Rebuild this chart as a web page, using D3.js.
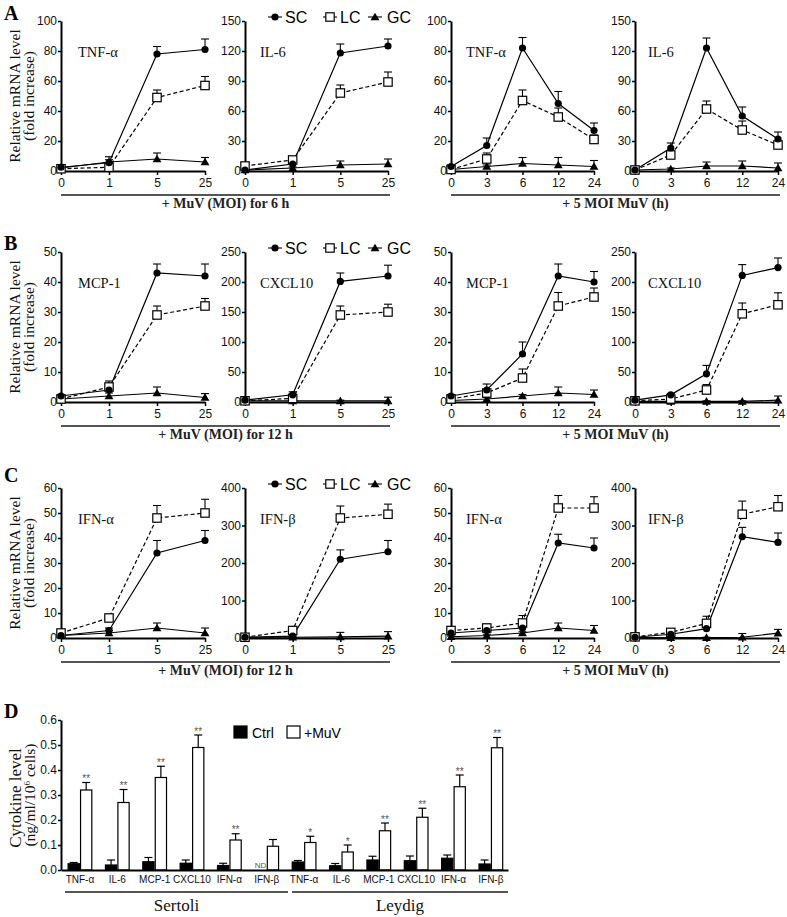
<!DOCTYPE html>
<html><head><meta charset="utf-8">
<script src="https://cdn.jsdelivr.net/npm/d3@7"></script>
<style>body{margin:0;background:#fff}</style>
</head><body>
<svg id="c" width="787" height="917" xmlns="http://www.w3.org/2000/svg"></svg>
<script>
// ---------------- DATA ----------------
const seriesNames = ["SC", "LC", "GC"];
const moiCats = ["0", "1", "5", "25"];
const timeCats = ["0", "3", "6", "12", "24"];
const panelLetters = ["A", "B", "C", "D"];
const moiTitles = ["+ MuV (MOI) for 6 h", "+ MuV (MOI) for 12 h", "+ MuV (MOI) for 12 h"];
const timeTitle = "+ 5 MOI MuV (h)";
const genesA = ["TNF-\u03b1", "IL-6"];
const genesB = ["MCP-1", "CXCL10"];
const genesC = ["IFN-\u03b1", "IFN-\u03b2"];
const yMaxA = [100, 150], yStepA = [20, 30];
const yMaxB = [50, 250], yStepB = [10, 50];
const yMaxC = [60, 400], yStepC = [10, 100];

// Panel A, TNF-a vs MOI
const A1_SC = [2.5, 5.5, 78, 81], A1_SCe = [1, 4, 5, 7];
const A1_LC = [1.5, 2.5, 49, 57], A1_LCe = [1, 2, 5, 6];
const A1_GC = [2, 6, 8, 6], A1_GCe = [1, 1.5, 4, 3];
// Panel A, IL-6 vs MOI
const A2_SC = [1, 7, 118, 125], A2_SCe = [1, 2, 9, 7];
const A2_LC = [5, 11, 78, 89], A2_LCe = [1, 2, 8, 10];
const A2_GC = [1, 3, 6, 7], A2_GCe = [1, 1, 4, 5];
// Panel A, TNF-a vs time
const A3_SC = [3, 17, 82, 45, 27], A3_SCe = [1, 5, 7, 8, 5];
const A3_LC = [1, 8, 47, 36, 21], A3_LCe = [1, 4, 7, 6, 3];
const A3_GC = [1, 3, 5, 4, 3], A3_GCe = [1, 1, 4, 5, 4];
// Panel A, IL-6 vs time
const A4_SC = [1, 23, 123, 55, 32], A4_SCe = [1, 5, 10, 9, 7];
const A4_LC = [1, 16, 62, 41, 26], A4_LCe = [1, 2, 8, 9, 3];
const A4_GC = [1, 2, 5, 5, 3], A4_GCe = [1, 1, 4, 5, 5];

// Panel B, MCP-1 vs MOI
const B1_SC = [2, 4, 43, 42], B1_SCe = [0.5, 1.5, 3, 4];
const B1_LC = [1, 5, 29, 32], B1_LCe = [0.5, 2, 3, 2.5];
const B1_GC = [1, 2, 3, 1.5], B1_GCe = [0.5, 1, 2, 1.3];
// Panel B, CXCL10 vs MOI
const B2_SC = [3, 12, 201, 210], B2_SCe = [1, 5, 14, 18];
const B2_LC = [2, 6, 145, 150], B2_LCe = [1, 3, 15, 13];
const B2_GC = [2, 2, 2, 2], B2_GCe = [1, 1, 1, 6];
// Panel B, MCP-1 vs time
const B3_SC = [2, 4, 16, 42, 40], B3_SCe = [0.5, 2, 4, 4, 3.5];
const B3_LC = [1, 3, 8, 32, 35], B3_LCe = [0.5, 1, 3, 4.5, 3];
const B3_GC = [0.5, 1, 2, 3, 2.5], B3_GCe = [0.3, 0.5, 0.5, 2, 1.5];
// Panel B, CXCL10 vs time
const B4_SC = [3, 12, 47, 211, 224], B4_SCe = [1, 2, 14, 18, 16];
const B4_LC = [2, 5, 20, 147, 162], B4_LCe = [1, 2, 9, 18, 20];
const B4_GC = [1, 1, 1, 1, 3], B4_GCe = [1, 1, 1, 1, 7];

// Panel C, IFN-a vs MOI
const C1_SC = [1, 3, 34, 39], C1_SCe = [0.5, 1, 5, 4];
const C1_LC = [2, 8, 48, 50], C1_LCe = [0.5, 1, 5, 5.5];
const C1_GC = [1, 2, 4, 2], C1_GCe = [0.5, 1, 2, 2];
// Panel C, IFN-b vs MOI
const C2_SC = [2, 5, 210, 230], C2_SCe = [1, 3, 25, 30];
const C2_LC = [2, 20, 320, 330], C2_LCe = [1, 5, 32, 27];
const C2_GC = [2, 2, 3, 5], C2_GCe = [1, 1, 12, 12];
// Panel C, IFN-a vs time
const C3_SC = [2, 3, 4, 38, 36], C3_SCe = [0.5, 1, 1, 3.5, 4];
const C3_LC = [3, 4, 6, 52, 52], C3_LCe = [0.5, 1.5, 3, 5, 4.5];
const C3_GC = [0.5, 1, 2, 4, 3], C3_GCe = [0.3, 0.5, 0.5, 2, 2];
// Panel C, IFN-b vs time
const C4_SC = [2, 10, 25, 270, 255], C4_SCe = [1, 3, 5, 25, 25];
const C4_LC = [3, 15, 39, 330, 350], C4_LCe = [1, 3, 19, 35, 30];
const C4_GC = [1, 1, 1, 2, 13], C4_GCe = [1, 1, 1, 10, 10];

// Panel D
const dCats = ["TNF-\u03b1", "IL-6", "MCP-1", "CXCL10", "IFN-\u03b1", "IFN-\u03b2"];
const dGroups = ["Sertoli", "Leydig"];
const dLegend = ["Ctrl", "+MuV"];
const dTicks = [0, 0.1, 0.2, 0.3, 0.4, 0.5, 0.6];
const sertoliCtrl = [0.025, 0.02, 0.033, 0.027, 0.018, null];
const sertoliCtrlErr = [0.005, 0.02, 0.017, 0.013, 0.009, null];
const sertoliMuV = [0.32, 0.27, 0.37, 0.49, 0.12, 0.095];
const sertoliMuVErr = [0.03, 0.052, 0.045, 0.05, 0.025, 0.027];
const leydigCtrl = [0.032, 0.017, 0.04, 0.037, 0.047, 0.024];
const leydigCtrlErr = [0.006, 0.009, 0.015, 0.019, 0.013, 0.016];
const leydigMuV = [0.11, 0.072, 0.157, 0.211, 0.333, 0.489];
const leydigMuVErr = [0.025, 0.028, 0.031, 0.036, 0.047, 0.041];
const sertoliSig = ["**", "**", "**", "**", "**", ""];
const leydigSig = ["*", "*", "**", "**", "**", "**"];

// ---------------- LAYOUT ----------------
const SERIF = "'Liberation Serif','Times New Roman',serif";
const SANS = "'Liberation Sans',Arial,sans-serif";
const svg = d3.select("#c");
svg.append("rect").attr("width", 787).attr("height", 917).attr("fill", "#fff");

const colX = [[61, 205], [245, 388], [451, 594], [635, 778]];
const geneX = [78, 260, 466, 648];
const rowY = [[171, 21], [402, 252], [638, 488]];
const letterY = [20, 250, 482];

function mk(sc, sce, lc, lce, gc, gce) {
  return { SC: sc, SCe: sce, LC: lc, LCe: lce, GC: gc, GCe: gce };
}

function drawMarker(g, s, cx, cy) {
  if (s === "SC") {
    g.append("circle").attr("cx", cx).attr("cy", cy).attr("r", 3.6).attr("fill", "#000");
  } else if (s === "LC") {
    g.append("rect").attr("x", cx - 4.2).attr("y", cy - 4.2).attr("width", 8.4).attr("height", 8.4)
      .attr("fill", "#fff").attr("stroke", "#000").attr("stroke-width", 1.2);
  } else {
    g.append("path").attr("d", d3.symbol(d3.symbolTriangle, 34)())
      .attr("transform", `translate(${cx},${cy + 0.8})`).attr("fill", "#000");
  }
}

function styleAxis(a) {
  a.select(".domain").attr("stroke", "#000").attr("stroke-width", 2);
  a.selectAll(".tick line").attr("stroke", "#000").attr("stroke-width", 1.5);
  a.selectAll(".tick text").attr("fill", "#111").style("font-family", SANS).style("font-size", "12px");
}

function drawPlot(row, col, cats, max, step, gene, data) {
  const [x0, x1] = colX[col], [yb, yt] = rowY[row];
  const x = d3.scalePoint().domain(cats).range([x0, x1]);
  const y = d3.scaleLinear().domain([0, max]).range([yb, yt]);
  const g = svg.append("g");
  const ya = g.append("g").attr("transform", `translate(${x0},0)`)
    .call(d3.axisLeft(y).tickValues(d3.range(0, max + step / 2, step)).tickSize(3).tickSizeOuter(0).tickPadding(1));
  styleAxis(ya);
  const xa = g.append("g").attr("transform", `translate(0,${yb})`)
    .call(d3.axisBottom(x).tickSize(4).tickSizeOuter(0).tickPadding(3));
  styleAxis(xa);

  g.append("text").attr("x", geneX[col]).attr("y", yt + 36).text(gene)
    .style("font-family", SERIF).style("font-size", "14.5px").attr("fill", "#111");

  const order = ["GC", "LC", "SC"];
  order.forEach(s => {
    const vals = data[s];
    const line = d3.line().x((d, i) => x(cats[i])).y(d => y(d));
    g.append("path").attr("d", line(vals)).attr("fill", "none").attr("stroke", "#000")
      .attr("stroke-width", 1.2).attr("stroke-dasharray", s === "LC" ? "4,2.5" : null);
  });
  order.forEach(s => {
    const vals = data[s], errs = data[s + "e"];
    vals.forEach((v, i) => {
      const cx = x(cats[i]), top = y(v + errs[i]);
      g.append("line").attr("x1", cx).attr("x2", cx).attr("y1", y(v)).attr("y2", top)
        .attr("stroke", "#000").attr("stroke-width", 1.1);
      g.append("line").attr("x1", cx - 4).attr("x2", cx + 4).attr("y1", top).attr("y2", top)
        .attr("stroke", "#000").attr("stroke-width", 1.1);
    });
  });
  order.forEach(s => {
    data[s].forEach((v, i) => drawMarker(g, s, x(cats[i]), y(v)));
  });
}

function drawLegend(cy) {
  const pos = [[275, 285], [330, 340], [375, 387]];
  seriesNames.forEach((s, i) => {
    const [mx, tx] = pos[i];
    svg.append("line").attr("x1", mx - 7).attr("x2", mx + 7).attr("y1", cy).attr("y2", cy)
      .attr("stroke", "#000").attr("stroke-width", 1.1);
    drawMarker(svg, s, mx, cy);
    svg.append("text").attr("x", tx).attr("y", cy + 6).text(s)
      .style("font-family", SANS).style("font-size", "16px").attr("fill", "#000");
  });
}

function drawRowFrame(row) {
  const [yb, yt] = rowY[row];
  svg.append("text").attr("x", 4).attr("y", letterY[row]).text(panelLetters[row])
    .style("font-family", SERIF).style("font-size", "20px").style("font-weight", "bold");
  const cyc = (yb + yt) / 2;
  svg.append("text").attr("transform", `translate(20,${cyc}) rotate(-90)`).attr("text-anchor", "middle")
    .text("Relative mRNA level").style("font-family", SERIF).style("font-size", "15.5px").attr("fill", "#111");
  svg.append("text").attr("transform", `translate(34,${cyc}) rotate(-90)`).attr("text-anchor", "middle")
    .text("(fold increase)").style("font-family", SERIF).style("font-size", "15.5px").attr("fill", "#111");
  // group underlines
  [[61, 390, moiTitles[row]], [451, 780, timeTitle]].forEach(([a, b, t]) => {
    svg.append("line").attr("x1", a).attr("x2", b).attr("y1", yb + 24).attr("y2", yb + 24)
      .attr("stroke", "#555").attr("stroke-width", 2);
    svg.append("text").attr("x", (a + b) / 2).attr("y", yb + 37).attr("text-anchor", "middle").text(t)
      .style("font-family", SERIF).style("font-size", "14px").style("font-weight", "bold").attr("fill", "#222");
  });
  drawLegend(yt - 4);
}

// Row A
drawRowFrame(0);
drawPlot(0, 0, moiCats, yMaxA[0], yStepA[0], genesA[0], mk(A1_SC, A1_SCe, A1_LC, A1_LCe, A1_GC, A1_GCe));
drawPlot(0, 1, moiCats, yMaxA[1], yStepA[1], genesA[1], mk(A2_SC, A2_SCe, A2_LC, A2_LCe, A2_GC, A2_GCe));
drawPlot(0, 2, timeCats, yMaxA[0], yStepA[0], genesA[0], mk(A3_SC, A3_SCe, A3_LC, A3_LCe, A3_GC, A3_GCe));
drawPlot(0, 3, timeCats, yMaxA[1], yStepA[1], genesA[1], mk(A4_SC, A4_SCe, A4_LC, A4_LCe, A4_GC, A4_GCe));
// Row B
drawRowFrame(1);
drawPlot(1, 0, moiCats, yMaxB[0], yStepB[0], genesB[0], mk(B1_SC, B1_SCe, B1_LC, B1_LCe, B1_GC, B1_GCe));
drawPlot(1, 1, moiCats, yMaxB[1], yStepB[1], genesB[1], mk(B2_SC, B2_SCe, B2_LC, B2_LCe, B2_GC, B2_GCe));
drawPlot(1, 2, timeCats, yMaxB[0], yStepB[0], genesB[0], mk(B3_SC, B3_SCe, B3_LC, B3_LCe, B3_GC, B3_GCe));
drawPlot(1, 3, timeCats, yMaxB[1], yStepB[1], genesB[1], mk(B4_SC, B4_SCe, B4_LC, B4_LCe, B4_GC, B4_GCe));
// Row C
drawRowFrame(2);
drawPlot(2, 0, moiCats, yMaxC[0], yStepC[0], genesC[0], mk(C1_SC, C1_SCe, C1_LC, C1_LCe, C1_GC, C1_GCe));
drawPlot(2, 1, moiCats, yMaxC[1], yStepC[1], genesC[1], mk(C2_SC, C2_SCe, C2_LC, C2_LCe, C2_GC, C2_GCe));
drawPlot(2, 2, timeCats, yMaxC[0], yStepC[0], genesC[0], mk(C3_SC, C3_SCe, C3_LC, C3_LCe, C3_GC, C3_GCe));
drawPlot(2, 3, timeCats, yMaxC[1], yStepC[1], genesC[1], mk(C4_SC, C4_SCe, C4_LC, C4_LCe, C4_GC, C4_GCe));

// ---------------- Panel D ----------------
(function () {
  const yb = 870, yt = 720;
  const ctrl = sertoliCtrl.concat(leydigCtrl), ctrlE = sertoliCtrlErr.concat(leydigCtrlErr);
  const muv = sertoliMuV.concat(leydigMuV), muvE = sertoliMuVErr.concat(leydigMuVErr);
  const sig = sertoliSig.concat(leydigSig);
  const keys = d3.range(ctrl.length);
  const x = d3.scaleBand().domain(keys).range([61, 508]).paddingInner(1 / 3).paddingOuter(0.15).align(0.58);
  const sub = d3.scaleBand().domain([0, 1]).range([0, x.bandwidth()]);
  const y = d3.scaleLinear().domain([0, 0.6]).range([yb, yt]);
  const g = svg.append("g");

  svg.append("text").attr("x", 4).attr("y", 718).text(panelLetters[3])
    .style("font-family", SERIF).style("font-size", "20px").style("font-weight", "bold");
  svg.append("text").attr("transform", `translate(21,798) rotate(-90)`).attr("text-anchor", "middle")
    .text("Cytokine level").style("font-family", SERIF).style("font-size", "17px").attr("fill", "#111");
  svg.append("text").attr("transform", `translate(35,795) rotate(-90)`).attr("text-anchor", "middle")
    .style("font-family", SERIF).style("font-size", "15.5px").attr("fill", "#111")
    .call(t => {
      t.append("tspan").text("(ng/ml/10");
      t.append("tspan").text("6").attr("dy", -5).style("font-size", "9px");
      t.append("tspan").text(" cells)").attr("dy", 5);
    });

  // bars
  const series = [[ctrl, ctrlE, "#000"], [muv, muvE, "#fff"]];
  series.forEach(([vals, errs, fill], si) => {
    vals.forEach((v, i) => {
      if (v === null) return;
      const bx = x(i) + sub(si), bw = sub.bandwidth(), cx = bx + bw / 2;
      const top = y(v + errs[i]);
      g.append("line").attr("x1", cx).attr("x2", cx).attr("y1", y(v)).attr("y2", top)
        .attr("stroke", "#000").attr("stroke-width", 1.2);
      g.append("line").attr("x1", cx - 4).attr("x2", cx + 4).attr("y1", top).attr("y2", top)
        .attr("stroke", "#000").attr("stroke-width", 1.2);
      g.append("rect").attr("x", bx + 0.6).attr("y", y(v)).attr("width", bw - 1.2).attr("height", yb - y(v))
        .attr("fill", fill).attr("stroke", "#000").attr("stroke-width", 1.2);
      if (si === 1 && sig[i]) {
        g.append("text").attr("x", cx).attr("y", top - 0.5).attr("text-anchor", "middle").text(sig[i])
          .style("font-family", SANS).style("font-size", "10px").attr("fill", "#555");
      }
    });
  });
  ctrl.forEach((v, i) => {
    if (v === null) {
      g.append("text").attr("x", x(i) + sub(0) + sub.bandwidth() / 2).attr("y", yb - 2).attr("text-anchor", "middle")
        .text("ND").style("font-family", SANS).style("font-size", "8px").attr("fill", "#555");
    }
  });

  const ya = g.append("g").attr("transform", `translate(61,0)`)
    .call(d3.axisLeft(y).tickValues(dTicks).tickFormat(d3.format(".1f")).tickSize(3).tickSizeOuter(0).tickPadding(1));
  styleAxis(ya);
  const xa = g.append("g").attr("transform", `translate(0,${yb})`)
    .call(d3.axisBottom(x).tickSize(0).tickPadding(6).tickFormat(i => dCats[i % dCats.length]));
  styleAxis(xa);
  xa.selectAll(".tick text").style("font-size", "10px");

  // group underlines
  [[65, 288, dGroups[0]], [292, 508, dGroups[1]]].forEach(([a, b, t]) => {
    svg.append("line").attr("x1", a).attr("x2", b).attr("y1", 892).attr("y2", 892)
      .attr("stroke", "#555").attr("stroke-width", 2);
    svg.append("text").attr("x", (a + b) / 2).attr("y", 911).attr("text-anchor", "middle").text(t)
      .style("font-family", SERIF).style("font-size", "17px").attr("fill", "#111");
  });

  // legend
  [[234, 252, "#000"], [287, 304, "#fff"]].forEach(([bx, tx, f], i) => {
    svg.append("rect").attr("x", bx).attr("y", 726).attr("width", 13).attr("height", 12)
      .attr("fill", f).attr("stroke", "#000").attr("stroke-width", 1.2);
    svg.append("text").attr("x", tx).attr("y", 738).text(dLegend[i])
      .style("font-family", SANS).style("font-size", "14px").attr("fill", "#000");
  });
})();
</script>
</body></html>
